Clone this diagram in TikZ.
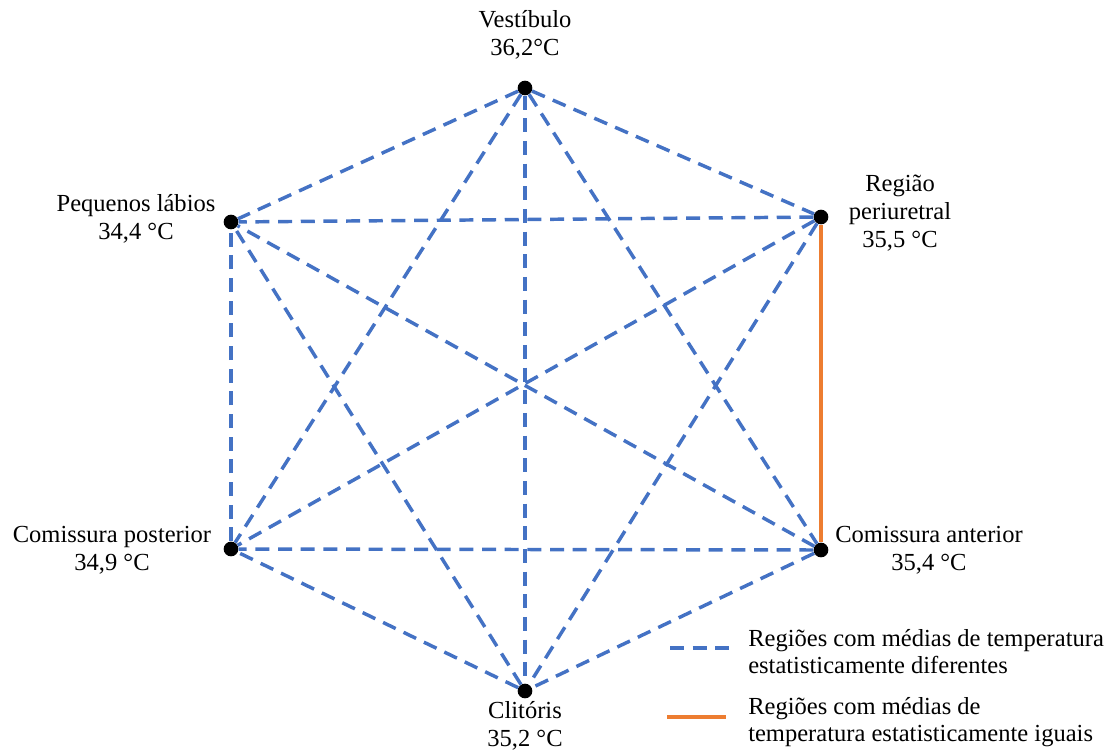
\documentclass[tikz,border=0pt]{standalone}
\usepackage{fontspec}
\setmainfont{Liberation Serif}

\definecolor{diffblue}{RGB}{68,114,196}
\definecolor{sameorange}{RGB}{237,125,49}

\tikzset{
    regiao/.style = {circle, fill = black, inner sep = 0pt, minimum size = 11pt},
    rotulo/.style = {align = center, inner sep = 0pt},
    diferente/.style = {draw = diffblue, line width = 2.6pt, dash pattern = on 10.5pt off 6.5pt},
    igual/.style = {draw = sameorange, line width = 2.6pt},
}

\begin{document}
\begin{tikzpicture}[
    x=0.75pt,y=0.75pt,
    yscale=-1,xscale=1,
    font = \fontsize{18.4}{20.8}\selectfont,
]
    \useasboundingbox (0,0) rectangle (1116,753);

    % 区域
    \node [regiao] (vest) at (525,88)  {};
    \node [regiao] (peri) at (821,217) {};
    \node [regiao] (ant)  at (821,550) {};
    \node [regiao] (clit) at (525,691) {};
    \node [regiao] (post) at (231,549) {};
    \node [regiao] (lab)  at (231,222) {};

    % 连线
    \draw [diferente] (vest) -- (peri);
    \draw [diferente] (vest) -- (ant);
    \draw [diferente] (vest) -- (clit);
    \draw [diferente] (vest) -- (post);
    \draw [diferente] (vest) -- (lab);
    \draw [diferente] (peri) -- (clit);
    \draw [diferente] (peri) -- (post);
    \draw [diferente] (peri) -- (lab);
    \draw [diferente] (ant)  -- (clit);
    \draw [diferente] (ant)  -- (post);
    \draw [diferente] (ant)  -- (lab);
    \draw [diferente] (clit) -- (post);
    \draw [diferente] (clit) -- (lab);
    \draw [diferente] (post) -- (lab);
    \draw [igual]     (peri) -- (ant);

    % 文本
    \node [rotulo] (tvest) at (525,35)    {Vestíbulo\\36,2°C};
    \node [rotulo] (tperi) at (900,213)   {Região\\periuretral\\35,5 °C};
    \node [rotulo] (tant)  at (929,550)   {Comissura anterior\\35,4 °C};
    \node [rotulo] (tclit) at (525,725.5) {Clitóris\\35,2 °C};
    \node [rotulo] (tpost) at (112,550)   {Comissura posterior\\34,9 °C};
    \node [rotulo] (tlab)  at (136,218.5) {Pequenos lábios\\34,4 °C};

    % 图例
    \coordinate (ldifA) at (670,648);
    \coordinate (ldifB) at (731,648);
    \draw [diferente] (ldifA) -- (ldifB);
    \node [rotulo, align = left, anchor = west] (ldif) at (748,651.5)
        {Regiões com médias de temperatura\\estatisticamente diferentes};

    \coordinate (ligA) at (667,717);
    \coordinate (ligB) at (726,717);
    \draw [igual] (ligA) -- (ligB);
    \node [rotulo, align = left, anchor = west] (lig) at (748,722)
        {Regiões com médias de\\temperatura estatisticamente iguais};
\end{tikzpicture}
\end{document}
